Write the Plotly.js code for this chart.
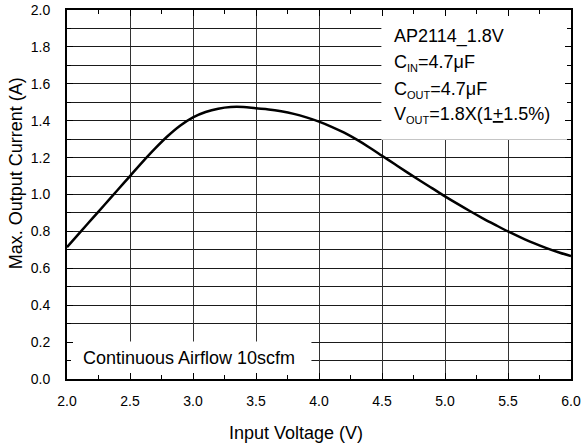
<!DOCTYPE html>
<html>
<head>
<meta charset="utf-8">
<script src="https://cdn.plot.ly/plotly-3.0.1.min.js"></script>
<style>html,body{margin:0;padding:0;background:#fff;}#chart{width:584px;height:445px;}</style>
</head>
<body>
<div id="chart"></div>
<script>
// Input voltage (V)
const inputVoltage = [2.0, 2.1, 2.2, 2.3, 2.4, 2.5, 2.6, 2.7, 2.8, 2.9, 3.0, 3.1, 3.2, 3.3, 3.4, 3.5, 3.6, 3.7, 3.8, 3.9, 4.0, 4.1, 4.2, 4.3, 4.4, 4.5, 4.6, 4.7, 4.8, 4.9, 5.0, 5.1, 5.2, 5.3, 5.4, 5.5, 5.6, 5.7, 5.8, 5.9, 6.0];
// Max. output current (A)
const maxOutputCurrent = [0.714, 0.792, 0.869, 0.946, 1.023, 1.100, 1.177, 1.250, 1.317, 1.374, 1.418, 1.447, 1.465, 1.474, 1.474, 1.467, 1.461, 1.451, 1.437, 1.418, 1.395, 1.367, 1.335, 1.297, 1.255, 1.210, 1.165, 1.120, 1.076, 1.033, 0.990, 0.949, 0.909, 0.871, 0.835, 0.800, 0.768, 0.738, 0.711, 0.687, 0.666];

const xTickVals = [2.0, 2.5, 3.0, 3.5, 4.0, 4.5, 5.0, 5.5, 6.0];
const xTickText = ['2.0', '2.5', '3.0', '3.5', '4.0', '4.5', '5.0', '5.5', '6.0'];
const yTickVals = [0.0, 0.2, 0.4, 0.6, 0.8, 1.0, 1.2, 1.4, 1.6, 1.8, 2.0];
const yTickText = ['0.0', '0.2', '0.4', '0.6', '0.8', '1.0', '1.2', '1.4', '1.6', '1.8', '2.0'];

const xTitle = 'Input Voltage (V)';
const yTitle = 'Max. Output Current (A)';
const sub = s => '<sub><span style="font-size:11px">' + s + '</span></sub>';
const infoLines = ['AP2114_1.8V', 'C' + sub('IN') + '=4.7\u03bcF', 'C' + sub('OUT') + '=4.7\u03bcF', 'V' + sub('OUT') + '=1.8X(1<u>+</u>1.5%)'];
const infoY = [1.855, 1.712, 1.566, 1.432];
const noteText = 'Continuous Airflow 10scfm';

const font = 'Liberation Sans, Arial, sans-serif';

const trace = {
  x: inputVoltage,
  y: maxOutputCurrent,
  type: 'scatter',
  mode: 'lines',
  line: {color: '#000', width: 2.5, shape: 'spline', smoothing: 1},
  hoverinfo: 'skip',
  showlegend: false
};

const annotations = infoLines.map((t, i) => ({
  x: 4.58, y: infoY[i], xref: 'x', yref: 'y',
  text: t, showarrow: false, xanchor: 'left', yanchor: 'middle',
  font: {family: font, size: 18, color: '#000'}
}));
annotations.push({
  x: 2.11, y: 0.115, xref: 'x', yref: 'y',
  text: noteText, showarrow: false, xanchor: 'left', yanchor: 'middle',
  font: {family: font, size: 18, color: '#000'}
});
annotations.push({
  x: 0.4544, y: -0.146, xref: 'paper', yref: 'paper',
  text: xTitle, showarrow: false, xanchor: 'center', yanchor: 'middle',
  font: {family: font, size: 18, color: '#000'}
});
annotations.push({
  x: -0.101, y: 0.558, xref: 'paper', yref: 'paper',
  text: yTitle, showarrow: false, xanchor: 'center', yanchor: 'middle', textangle: -90,
  font: {family: font, size: 18, color: '#000'}
});

const layout = {
  width: 584, height: 445,
  margin: {l: 67, r: 13, t: 10, b: 66},
  paper_bgcolor: '#fff', plot_bgcolor: '#fff',
  font: {family: font, color: '#000'},
  showlegend: false,
  xaxis: {
    range: [2.0, 6.0], autorange: false,
    tickvals: xTickVals, ticktext: xTickText,
    ticks: 'inside', ticklen: 6, tickwidth: 1, tickcolor: '#000',
    showline: true, linecolor: '#000', linewidth: 2, mirror: 'ticks',
    showgrid: true, gridcolor: '#333', gridwidth: 1,
    zeroline: false,
    minor: {dtick: 0.25, tick0: 0, ticks: 'inside', ticklen: 4, tickcolor: '#000', showgrid: false},
    tickfont: {family: font, size: 14, color: '#000'},
    ticklabelstandoff: 8
  },
  yaxis: {
    range: [0.0, 2.0], autorange: false,
    tickvals: yTickVals, ticktext: yTickText,
    ticks: 'inside', ticklen: 6, tickwidth: 1, tickcolor: '#000',
    showline: true, linecolor: '#000', linewidth: 2, mirror: 'ticks',
    showgrid: true, gridcolor: '#1a1a1a', gridwidth: 1,
    zeroline: false,
    minor: {dtick: 0.1, tick0: 0, ticks: 'inside', ticklen: 4, tickcolor: '#000', showgrid: true, gridcolor: '#1a1a1a', gridwidth: 1},
    tickfont: {family: font, size: 14, color: '#000'},
    ticklabelstandoff: 12
  },
  shapes: [
    {type: 'rect', xref: 'x', yref: 'y', x0: 4.495, x1: 6.0, y0: 1.297, y1: 2.0, fillcolor: '#fff', line: {width: 0}, layer: 'between'},
    {type: 'rect', xref: 'x', yref: 'y', x0: 2.0, x1: 3.94, y0: 0.0, y1: 0.203, fillcolor: '#fff', line: {width: 0}, layer: 'between'}
  ],
  annotations: annotations
};

Plotly.newPlot('chart', [trace], layout, {staticPlot: true, displayModeBar: false});
</script>
</body>
</html>
